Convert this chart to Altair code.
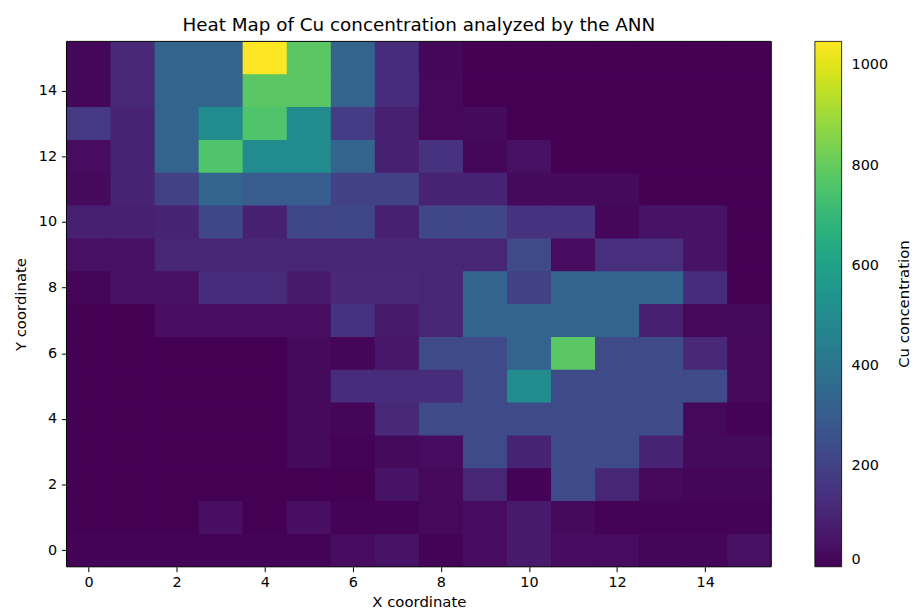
import altair as alt
import pandas as pd

# rows listed from top (y=15) to bottom (y=0); columns x=0..15
y_values = list(range(15, -1, -1))
x_values = list(range(16))
grid = [
    [15, 120, 330, 330, 1048, 780, 330, 130, 15, 0, 0, 0, 0, 0, 0, 0],
    [15, 120, 330, 330, 780, 780, 330, 130, 20, 0, 0, 0, 0, 0, 0, 0],
    [170, 100, 330, 500, 760, 500, 180, 90, 20, 25, 0, 0, 0, 0, 0, 0],
    [30, 100, 330, 760, 500, 500, 330, 90, 150, 15, 40, 0, 0, 0, 0, 0],
    [25, 100, 200, 330, 300, 300, 200, 200, 100, 100, 25, 25, 25, 0, 0, 0],
    [90, 90, 100, 220, 90, 220, 220, 90, 220, 220, 150, 150, 15, 50, 50, 0],
    [40, 40, 110, 110, 110, 110, 110, 110, 110, 110, 230, 30, 140, 140, 50, 0],
    [10, 40, 40, 130, 130, 70, 120, 120, 110, 330, 200, 330, 330, 330, 130, 0],
    [0, 0, 35, 35, 35, 35, 150, 70, 110, 330, 330, 330, 330, 90, 20, 25],
    [0, 0, 0, 0, 0, 25, 10, 60, 230, 230, 330, 780, 230, 230, 120, 20],
    [0, 0, 0, 0, 0, 25, 130, 130, 130, 230, 500, 230, 230, 230, 230, 20],
    [0, 0, 0, 0, 0, 25, 10, 120, 230, 230, 230, 230, 230, 230, 20, 5],
    [0, 0, 0, 0, 0, 25, 5, 25, 30, 230, 100, 230, 230, 100, 25, 25],
    [0, 0, 0, 0, 0, 0, 0, 50, 20, 110, 5, 230, 110, 20, 10, 10],
    [0, 0, 0, 35, 0, 35, 5, 5, 20, 30, 70, 25, 5, 5, 5, 5],
    [5, 5, 5, 5, 5, 5, 30, 50, 5, 30, 70, 30, 30, 10, 10, 40],
]
tick_values = [0, 2, 4, 6, 8, 10, 12, 14]
legend_values = [0, 200, 400, 600, 800, 1000]
colorbar_title = ["Cu concentration"]

rows = []
for r, yv in enumerate(y_values):
    for c, xv in enumerate(x_values):
        rows.append({"x": xv, "y": yv, "v": grid[r][c]})
df = pd.DataFrame(rows)

FONT = "DejaVu Sans"
W, H = 711, 530
cscale = alt.Scale(scheme="viridis", domain=[0, 1048], nice=False)

axis_common = dict(values=tick_values, grid=False, tickColor="black", domain=False,
                   labelFontSize=14.5, titleFontSize=15, titleFontWeight="normal",
                   labelColor="black", titleColor="black", tickSize=5,
                   labelFlush=False, tickWidth=1)

# cells overlap their neighbours by a hair to hide anti-aliasing seams
heat = alt.Chart(df).transform_calculate(
    x0="datum.x - 0.5", x1="datum.x + 0.53", y0="datum.y - 0.53", y1="datum.y + 0.5"
).mark_rect(clip=True).encode(
    x=alt.X("x0:Q", scale=alt.Scale(domain=[-0.5, 15.5], nice=False, zero=False),
            axis=alt.Axis(title="X coordinate", labelPadding=4, titlePadding=6,
                          **axis_common)),
    x2="x1:Q",
    y=alt.Y("y0:Q", scale=alt.Scale(domain=[-0.5, 15.5], nice=False, zero=False),
            axis=alt.Axis(title="Y coordinate", labelPadding=5, titlePadding=10,
                          **axis_common)),
    y2="y1:Q",
    color=alt.Color("v:Q", scale=cscale,
                    legend=alt.Legend(title=None, values=legend_values, format="d",
                                      orient="none", legendX=755, legendY=0,
                                      gradientLength=H, gradientThickness=27,
                                      gradientStrokeColor="black", gradientStrokeWidth=0.8,
                                      labelFontSize=14.5, labelColor="black",
                                      labelOffset=10)),
)

frame = alt.Chart(pd.DataFrame({"t": colorbar_title})).mark_rect(
    fill=None, stroke="black", strokeWidth=1
).encode(x=alt.value(0), x2=alt.value(W), y=alt.value(0), y2=alt.value(H))

cbar_title = alt.Chart(pd.DataFrame({"t": colorbar_title})).mark_text(
    angle=270, fontSize=15, baseline="middle", align="center", color="black", font=FONT
).encode(text="t:N", x=alt.value(845), y=alt.value(H / 2))

chart = alt.layer(heat, frame, cbar_title).properties(
    width=W, height=H,
    autosize=alt.AutoSizeParams(type="none"),
    padding={"left": 59, "top": 31, "right": 142, "bottom": 47},
    title=alt.TitleParams("Heat Map of Cu concentration analyzed by the ANN",
                          fontSize=18.5, fontWeight="normal", font=FONT, color="black",
                          anchor="middle", offset=6),
).configure_view(stroke=None).configure(font=FONT)

chart.save("out.html", embed_options={"renderer": "svg", "actions": False})
